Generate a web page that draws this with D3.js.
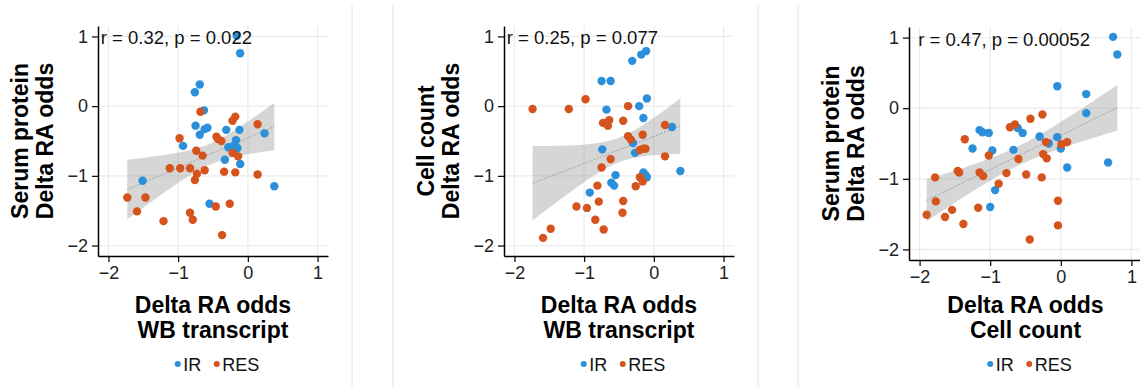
<!DOCTYPE html>
<html>
<head>
<meta charset="utf-8">
<script src="https://cdn.jsdelivr.net/npm/d3@7"></script>
<style>
  body { margin: 0; background: #fff; }
  svg { display: block; }
</style>
</head>
<body>
<svg id="chart"></svg>
<script>
// ---- data ----
const groups = ["IR", "RES"];
const groupColors = ["#2b8fd9", "#d5531c"];
const tickVals = [-2, -1, 0, 1];
const corLabels = ["r = 0.32, p = 0.022", "r = 0.25, p = 0.077", "r = 0.47, p = 0.00052"];

// panel 1: x = WB transcript, y = serum protein
const wbSerumIR = [
  [-0.16, 1.01], [-0.11, 0.76], [-0.69, 0.31], [-0.76, 0.20], [-0.63, -0.06],
  [-0.75, -0.28], [-0.69, -0.41], [-0.62, -0.33], [-0.58, -0.31], [-0.31, -0.34],
  [-0.12, -0.34], [0.24, -0.39], [-0.93, -0.57], [-0.17, -0.49], [-0.28, -0.59],
  [-0.21, -0.57], [-0.15, -0.60], [-0.19, -0.62], [-0.33, -0.77], [-0.11, -0.83],
  [-1.51, -1.07], [0.38, -1.15], [-0.55, -1.40]
];
const wbSerumRES = [
  [-0.68, -0.08], [-0.22, -0.21], [-0.18, -0.15], [0.14, -0.26], [-0.98, -0.46],
  [-0.45, -0.44], [-0.43, -0.47], [-0.38, -0.50], [-0.74, -0.64], [-0.65, -0.71],
  [-0.22, -0.67], [-0.14, -0.72], [-1.12, -0.89], [-0.97, -0.89], [-0.83, -0.89],
  [-0.73, -0.97], [-0.76, -1.06], [-0.62, -0.92], [-0.34, -0.94], [-0.18, -0.95],
  [0.14, -0.98], [-1.73, -1.31], [-1.47, -1.31], [-1.59, -1.51], [-1.21, -1.65],
  [-0.83, -1.53], [-0.79, -1.63], [-0.46, -1.44], [-0.26, -1.40], [-0.37, -1.85]
];

// panel 2: x = WB transcript, y = cell count
const wbCellIR = [
  [-0.11, 0.79], [-0.18, 0.74], [-0.31, 0.65], [-0.75, 0.36], [-0.62, 0.36],
  [-0.10, 0.11], [-0.21, 0.00], [-0.68, -0.05], [-0.15, -0.17], [0.26, -0.30],
  [-0.74, -0.62], [-0.30, -0.53], [-0.27, -0.67], [0.38, -0.93], [-0.55, -0.99],
  [-0.15, -0.95], [-0.12, -0.99], [-0.10, -1.02], [-0.61, -1.10], [-0.57, -1.14],
  [-0.92, -1.24]
];
const wbCellRES = [
  [-1.74, -0.04], [-1.22, -0.04], [-0.98, 0.10], [-0.37, 0.00], [-0.44, -0.21],
  [-0.73, -0.24], [-0.68, -0.25], [-0.64, -0.20], [-0.66, -0.28], [-0.37, -0.43],
  [-0.33, -0.48], [-0.16, -0.41], [-0.20, -0.63], [-0.15, -0.61], [-0.12, -0.61],
  [0.16, -0.27], [0.16, -0.72], [-0.62, -0.76], [-0.75, -0.88], [-0.20, -1.02],
  [-0.16, -1.08], [-0.26, -1.15], [-0.81, -1.14], [-1.11, -1.44], [-0.96, -1.46],
  [-0.79, -1.37], [-0.44, -1.36], [-0.45, -1.53], [-0.84, -1.63], [-0.72, -1.77],
  [-1.48, -1.76], [-1.59, -1.89]
];

// panel 3: x = cell count, y = serum protein
const cellSerumIR = [
  [0.74, 1.01], [0.80, 0.76], [-0.05, 0.31], [0.36, 0.20], [0.36, -0.07],
  [-1.15, -0.31], [-1.11, -0.34], [-1.02, -0.35], [-0.61, -0.28], [-0.54, -0.35],
  [-1.25, -0.57], [-0.97, -0.60], [-0.67, -0.59], [-0.30, -0.40], [-0.17, -0.50],
  [-0.05, -0.41], [0.00, -0.57], [0.09, -0.84], [0.67, -0.77], [-0.93, -1.16],
  [-1.00, -1.40]
];
const cellSerumRES = [
  [-0.26, -0.09], [-0.43, -0.15], [-0.72, -0.27], [-0.65, -0.23], [-1.36, -0.44],
  [-1.02, -0.67], [-0.60, -0.72], [-0.25, -0.65], [-0.20, -0.71], [-0.21, -0.48],
  [0.01, -0.51], [0.09, -0.48], [-1.78, -0.98], [-1.46, -0.89], [-1.44, -0.91],
  [-1.15, -0.91], [-1.10, -0.96], [-0.88, -1.07], [-0.77, -0.92], [-0.49, -0.94],
  [-0.27, -0.98], [-1.90, -1.51], [-1.77, -1.32], [-1.64, -1.54], [-1.54, -1.44],
  [-1.38, -1.64], [-1.17, -1.41], [-0.04, -1.31], [-0.04, -1.66], [-0.44, -1.86]
];

const W = 1140, H = 387;
const FONT = "'Liberation Sans', Arial, Helvetica, sans-serif";

const panels = [
  { ir: wbSerumIR, res: wbSerumRES, label: corLabels[0], labelX: -2.11,
    yTitle: ["Serum protein", "Delta RA odds"], xTitle: ["Delta RA odds", "WB transcript"],
    left: 98, top: 26, w: 230, h: 230 },
  { ir: wbCellIR, res: wbCellRES, label: corLabels[1], labelX: -2.11,
    yTitle: ["Cell count", "Delta RA odds"], xTitle: ["Delta RA odds", "WB transcript"],
    left: 504, top: 26, w: 230, h: 230 },
  { ir: cellSerumIR, res: cellSerumRES, label: corLabels[2], labelX: -2.02,
    yTitle: ["Serum protein", "Delta RA odds"], xTitle: ["Delta RA odds", "Cell count"],
    left: 909, top: 27, w: 233, h: 233 }
];

const svg = d3.select("#chart").attr("width", W).attr("height", H)
  .style("font-family", FONT);

svg.append("rect").attr("width", W).attr("height", H).attr("fill", "#fff");

// thin separators between the three figure tiles
[352, 393, 758, 798].forEach(x => {
  svg.append("line").attr("x1", x).attr("x2", x).attr("y1", 5).attr("y2", H)
    .attr("stroke", "#e2e2e2").attr("stroke-width", 1);
});

// t quantile (0.975) approximation
function tq(df) {
  const z = 1.959964;
  return z + (z ** 3 + z) / (4 * df) + (5 * z ** 5 + 16 * z ** 3 + 3 * z) / (96 * df * df);
}

function linFit(pts) {
  const n = pts.length;
  const mx = d3.mean(pts, d => d[0]), my = d3.mean(pts, d => d[1]);
  const sxx = d3.sum(pts, d => (d[0] - mx) ** 2);
  const sxy = d3.sum(pts, d => (d[0] - mx) * (d[1] - my));
  const b = sxy / sxx, a = my - b * mx;
  const s2 = d3.sum(pts, d => (d[1] - a - b * d[0]) ** 2) / (n - 2);
  const t = tq(n - 2);
  const [x0, x1] = d3.extent(pts, d => d[0]);
  return d3.range(80).map(i => {
    const x = x0 + (x1 - x0) * i / 79;
    const fit = a + b * x;
    const se = Math.sqrt(s2 * (1 / n + (x - mx) ** 2 / sxx));
    return { x, fit, lo: fit - t * se, hi: fit + t * se };
  });
}

panels.forEach(p => {
  const x = d3.scaleLinear().domain([-2.15, 1.15]).range([p.left, p.left + p.w]);
  const y = d3.scaleLinear().domain([-2.15, 1.15]).range([p.top + p.h, p.top]);
  const g = svg.append("g");

  // grid
  g.append("g").selectAll("line").data(tickVals).join("line")
    .attr("x1", d => x(d)).attr("x2", d => x(d))
    .attr("y1", p.top).attr("y2", p.top + p.h)
    .attr("stroke", "#ebebeb").attr("stroke-width", 1.2);
  g.append("g").selectAll("line").data(tickVals).join("line")
    .attr("y1", d => y(d)).attr("y2", d => y(d))
    .attr("x1", p.left).attr("x2", p.left + p.w)
    .attr("stroke", "#ebebeb").attr("stroke-width", 1.2);

  // regression band + line
  const all = p.ir.concat(p.res);
  const fit = linFit(all);
  g.append("path").datum(fit)
    .attr("d", d3.area().x(d => x(d.x)).y0(d => y(d.lo)).y1(d => y(d.hi)))
    .attr("fill", "#999").attr("fill-opacity", 0.4);
  g.append("path").datum(fit)
    .attr("d", d3.line().x(d => x(d.x)).y(d => y(d.fit)))
    .attr("fill", "none").attr("stroke", "#888").attr("stroke-width", 0.8)
    .attr("stroke-dasharray", "1.5,1.5");

  // points
  [p.ir, p.res].forEach((pts, gi) => {
    g.append("g").selectAll("circle").data(pts).join("circle")
      .attr("cx", d => x(d[0])).attr("cy", d => y(d[1])).attr("r", 4.2)
      .attr("fill", groupColors[gi]);
  });

  // correlation label
  g.append("text").attr("x", x(p.labelX)).attr("y", y(1) + 8)
    .attr("font-size", 18.5).attr("fill", "#111").text(p.label);

  // axes
  const fmt = d3.format("d");
  const ax = g.append("g").attr("transform", `translate(0,${p.top + p.h})`)
    .call(d3.axisBottom(x).tickValues(tickVals).tickFormat(fmt).tickSize(6).tickSizeOuter(0).tickPadding(4));
  const ay = g.append("g").attr("transform", `translate(${p.left},0)`)
    .call(d3.axisLeft(y).tickValues(tickVals).tickFormat(fmt).tickSize(6).tickSizeOuter(0).tickPadding(4));
  [ax, ay].forEach(a => {
    a.select(".domain").attr("stroke", "#000").attr("stroke-width", 1.5);
    a.selectAll(".tick line").attr("stroke", "#000").attr("stroke-width", 1.2);
    a.selectAll(".tick text").attr("font-size", 18).attr("fill", "#222").attr("font-family", FONT);
  });

  // axis titles
  const cx = p.left + p.w / 2, cy = p.top + p.h / 2;
  const yt = g.append("text").attr("transform", `translate(${p.left - 70},${cy}) rotate(-90)`)
    .attr("text-anchor", "middle").attr("font-size", 23).attr("font-weight", "bold");
  p.yTitle.forEach((s, i) => yt.append("tspan").attr("x", 0).attr("y", i * 25).text(s));
  const xt = g.append("text").attr("text-anchor", "middle")
    .attr("font-size", 23).attr("font-weight", "bold");
  p.xTitle.forEach((s, i) => xt.append("tspan").attr("x", cx).attr("y", 313 + i * 25).text(s));

  // legend
  const lg = g.append("g");
  let off = 0;
  groups.forEach((name, gi) => {
    const item = lg.append("g").attr("transform", `translate(${off},0)`);
    item.append("circle").attr("cx", 3).attr("cy", 0).attr("r", 3).attr("fill", groupColors[gi]);
    const t = item.append("text").attr("x", 8.5).attr("y", 6.5)
      .attr("font-size", 18).attr("fill", "#111").text(name);
    off += 8.5 + t.node().getComputedTextLength() + 12.5;
  });
  const lw = off - 12.5;
  lg.attr("transform", `translate(${cx + 4 - lw / 2},364)`);
});
</script>
</body>
</html>
